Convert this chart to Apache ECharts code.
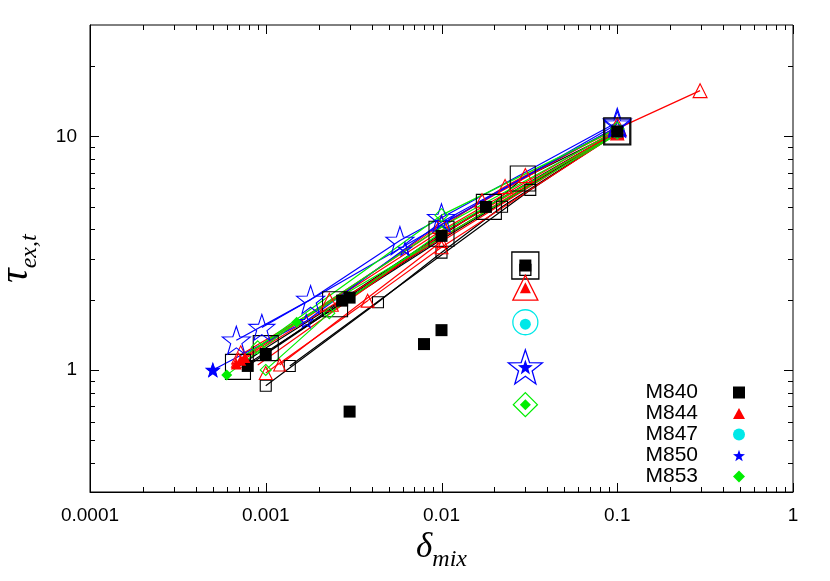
<!DOCTYPE html>
<html><head><meta charset="utf-8">
<script src="https://cdn.jsdelivr.net/npm/echarts@6/dist/echarts.min.js"></script>
<style>html,body{margin:0;padding:0;background:#fff}#c{width:830px;height:581px}</style>
</head><body><div id="c"></div>
<script>
// ---------- axes ----------
const xRange = [0.0001, 1];
const yRange = [0.3, 30];
const xTickLabels = ['0.0001', '0.001', '0.01', '0.1', '1'];
const yTickLabels = ['1', '10'];
const xDecades = [0.0001, 0.001, 0.01, 0.1, 1];
const yDecades = [0.1, 1, 10];
const minorMult = [2, 3, 4, 5, 6, 7, 8, 9];

// ---------- legend series (filled points) ----------
const names = ['M840', 'M844', 'M847', 'M850', 'M853'];
const m840 = [[0.00079,1.04],[0.001,1.17],[0.00272,1.98],[0.003,2.04],[0.01,3.75],[0.0179,4.99],[0.1,10.5],[0.003,0.663],[0.00795,1.29],[0.01,1.48],[0.03,2.8]];
const m844 = [[0.00068,1.06],[0.00072,1.1],[0.00076,1.13],[0.03,2.25]];
const m847 = [[0.03,1.57]];
const m850 = [[0.0005,1.0],[0.03,1.03]];
const m853 = [[0.0006,0.95],[0.0015,1.6],[0.03,0.71]];

// ---------- open-marker fit lines ----------
const blackSmallA = [[0.001,0.855],[0.00435,1.95],[0.01,3.18],[0.0221,5.0],[0.1,10.3]];
const blackSmallB = [[0.00137,1.04],[0.032,5.9],[0.1,10.4]];
const blackBig    = [[0.000695,1.03],[0.001,1.24],[0.00248,1.91],[0.01,3.83],[0.0186,4.99],[0.029,6.6],[0.1,10.5]];
const blackPlainA = [[0.00079,1.04],[0.00272,1.98],[0.01,3.75],[0.0179,4.99],[0.1,10.5]];
const blackPlainB = [[0.001,1.17],[0.003,2.04],[0.01,3.68],[0.1,10.4]];
const blackPlainC = [[0.00085,1.1],[0.01,3.62],[0.1,10.35]];
const redSmallA   = [[0.001,0.97],[0.0038,1.98],[0.01,3.35],[0.1,10.3]];
const redSmallB   = [[0.0012,1.05],[0.01,3.55],[0.1,10.4]];
const redBig      = [[0.00072,1.16],[0.0023,1.95],[0.01,4.2],[0.1,11.0]];
const redMid      = [[0.0007,1.1],[0.017,5.3],[0.023,6.1],[0.03,6.8],[0.1,10.8],[0.296,15.7]];
const redPlainA   = [[0.00068,1.06],[0.1,10.6]];
const redPlainB   = [[0.00076,1.13],[0.01,3.95],[0.1,10.7]];
const redPlainC   = [[0.0009,1.05],[0.01,3.8],[0.1,10.5]];
const blueBigA    = [[0.00068,1.34],[0.0018,2.0],[0.0058,3.58],[0.01,4.48],[0.1,11.5]];
const blueBigB    = [[0.00095,1.52],[0.1,11.3]];
const blueSmall   = [[0.0005,1.0],[0.0017,1.62],[0.0062,3.3],[0.01,4.3],[0.1,11.0]];
const greenPlain  = [[0.0006,0.95],[0.0015,1.6],[0.1,10.2]];
const greenSmall  = [[0.001,1.0],[0.0023,1.75],[0.01,3.9],[0.1,10.3]];
const greenMid    = [[0.0009,1.25],[0.01,4.6],[0.1,10.8]];
const greenPlainB = [[0.00075,1.15],[0.0018,1.75],[0.01,4.1],[0.1,10.6]];

// ---------- big open markers around outliers ----------
const openSquare  = [[0.03,2.8],[0.1,10.5]];
const openSqSmall = [[0.03,2.68]];
const openTri     = [[0.03,2.25]];
const openCircle  = [[0.03,1.6]];
const openStar    = [[0.03,1.03]];
const openDiamond = [[0.03,0.71]];

const STAR = 'path://M0,-10 L2.35,-3.24 L9.51,-3.09 L3.8,1.24 L5.88,8.09 L0,4 L-5.88,8.09 L-3.8,1.24 L-9.51,-3.09 L-2.35,-3.24 Z';
const TRI = 'path://M0,-10 L10,8 L-10,8 Z';
const C = {k:'#000000', r:'#ff0000', c:'#00e8e8', b:'#0000ff', g:'#00ee00'};

function fitLine(data, color, symbol, size) {
  return {
    type: 'line', data: data, silent: true, z: 2,
    symbol: symbol || 'none', symbolSize: size || 10, showSymbol: !!symbol,
    lineStyle: {color: color, width: 1.2, opacity: 1},
    itemStyle: {color: 'rgba(0,0,0,0)', borderColor: color, borderWidth: 1.1, opacity: 1}
  };
}
function openPts(data, color, symbol, size) {
  return {
    type: 'scatter', data: data, silent: true, z: 3,
    symbol: symbol, symbolSize: size,
    itemStyle: {color: 'rgba(0,0,0,0)', borderColor: color, borderWidth: 1.3, opacity: 1}
  };
}
function filled(name, data, color, symbol, size) {
  return {
    type: 'scatter', name: name, data: data, z: 5,
    symbol: symbol, symbolSize: size,
    itemStyle: {color: color, opacity: 1}
  };
}

function logLabel(labels) {
  return function (v) {
    for (const l of labels) {
      if (Math.abs(Math.log10(v) - Math.log10(Number(l))) < 1e-6) return l;
    }
    return '';
  };
}

const xTicks = [], yTicks = [];
xDecades.forEach(d => {
  xTicks.push({v: d, major: true});
  minorMult.forEach(m => { if (d * m < xRange[1]) xTicks.push({v: d * m, major: false}); });
});
yDecades.forEach(d => {
  if (d >= yRange[0]) yTicks.push({v: d, major: true});
  minorMult.forEach(m => { const v = d * m; if (v > yRange[0] && v < yRange[1]) yTicks.push({v: v, major: false}); });
});

function renderTicks(params, api) {
  const lo = api.coord([xRange[0], yRange[0]]);
  const hi = api.coord([xRange[1], yRange[1]]);
  const left = lo[0], bottom = lo[1], right = hi[0], top = hi[1];
  const ch = [];
  const st = {stroke: '#000', lineWidth: 1};
  xTicks.forEach(t => {
    const p = Math.round(api.coord([t.v, yRange[0]])[0]) + 0.5;
    const L = t.major ? 9 : 5;
    ch.push({type: 'line', shape: {x1: p, y1: bottom, x2: p, y2: bottom - L}, style: st});
    ch.push({type: 'line', shape: {x1: p, y1: top, x2: p, y2: top + L}, style: st});
  });
  yTicks.forEach(t => {
    const p = Math.round(api.coord([xRange[0], t.v])[1]) + 0.5;
    const L = t.major ? 9 : 5;
    ch.push({type: 'line', shape: {x1: left, y1: p, x2: left + L, y2: p}, style: st});
    ch.push({type: 'line', shape: {x1: right, y1: p, x2: right - L, y2: p}, style: st});
  });
  return {type: 'group', children: ch};
}

const series = [
  {type: 'custom', coordinateSystem: 'cartesian2d', data: [[0.001, 1]], renderItem: renderTicks, silent: true, z: 1, clip: false},
  fitLine(blackSmallA, C.k, 'rect', 11),
  fitLine(blackSmallB, C.k, 'rect', 11),
  fitLine(blackBig, C.k, 'rect', 25),
  fitLine(blackPlainA, C.k),
  fitLine(blackPlainB, C.k),
  fitLine(blackPlainC, C.k),
  fitLine(redSmallA, C.r, TRI, 13),
  fitLine(redSmallB, C.r, TRI, 12),
  fitLine(redBig, C.r, TRI, 18),
  fitLine(redMid, C.r, TRI, 14),
  fitLine(redPlainA, C.r),
  fitLine(redPlainB, C.r),
  fitLine(redPlainC, C.r),
  fitLine(blueBigA, C.b, STAR, 28),
  fitLine(blueBigB, C.b, STAR, 26),
  fitLine(blueSmall, C.b, STAR, 13),
  fitLine(greenPlain, C.g),
  fitLine(greenPlainB, C.g),
  fitLine(greenSmall, C.g, 'diamond', 11),
  fitLine(greenMid, C.g, 'diamond', 13),
  openPts(openSquare, C.k, 'rect', 27),
  openPts(openSqSmall, C.k, 'rect', 11),
  openPts(openTri, C.r, TRI, 25),
  openPts(openCircle, C.c, 'circle', 25),
  openPts(openStar, C.b, STAR, 34),
  openPts(openDiamond, C.g, 'diamond', 24),
  filled(names[0], m840, C.k, 'rect', 12),
  filled(names[1], m844, C.r, TRI, 11),
  filled(names[2], m847, C.c, 'circle', 11),
  filled(names[3], m850, C.b, STAR, 15),
  filled(names[4], m853, C.g, 'diamond', 11)
];

const chart = echarts.init(document.getElementById('c'));
chart.setOption({
  animation: false,
  backgroundColor: '#fff',
  grid: {left: 90, right: 37, top: 25, bottom: 89, containLabel: false, outerBoundsMode: 'none', show: true, borderColor: '#000', borderWidth: 1, backgroundColor: 'transparent'},
  legend: {
    data: names, orient: 'vertical', right: 80, top: 377, align: 'right',
    itemWidth: 12, itemHeight: 12, itemGap: 0, selectedMode: false,
    textStyle: {fontFamily: 'Liberation Sans', fontSize: 21, color: '#000', lineHeight: 17.5, padding: [0, 30, 0, 0]}
  },
  xAxis: {
    type: 'log', logBase: 10, min: xRange[0], max: xRange[1],
    axisLine: {show: true, lineStyle: {color: '#000'}},
    axisTick: {show: false}, splitLine: {show: false}, minorTick: {show: false},
    axisLabel: {formatter: logLabel(xTickLabels), fontFamily: 'Liberation Sans', fontSize: 19, color: '#000', margin: 14},
    name: '{a|δ}{b|mix}', nameLocation: 'middle', nameGap: 32,
    nameTextStyle: {
      rich: {
        a: {fontFamily: 'Liberation Serif', fontStyle: 'italic', fontSize: 35, color: '#000', lineHeight: 42, verticalAlign: 'top'},
        b: {fontFamily: 'Liberation Serif', fontStyle: 'italic', fontSize: 24, color: '#000', lineHeight: 42, verticalAlign: 'bottom'}
      }
    }
  },
  yAxis: {
    type: 'log', logBase: 10, min: yRange[0], max: yRange[1],
    axisLine: {show: true, lineStyle: {color: '#000'}},
    axisTick: {show: false}, splitLine: {show: false}, minorTick: {show: false},
    axisLabel: {formatter: logLabel(yTickLabels), showMinLabel: false, showMaxLabel: false, fontFamily: 'Liberation Sans', fontSize: 19, color: '#000', margin: 13},
    name: '{a|τ}{b|ex,t}', nameLocation: 'middle', nameRotate: 90, nameGap: 48,
    nameTextStyle: {
      rich: {
        a: {fontFamily: 'Liberation Serif', fontStyle: 'italic', fontSize: 40, color: '#000', lineHeight: 46, verticalAlign: 'top'},
        b: {fontFamily: 'Liberation Serif', fontStyle: 'italic', fontSize: 24, color: '#000', lineHeight: 46, verticalAlign: 'bottom'}
      }
    }
  },
  series: series
});
</script>
</body></html>
